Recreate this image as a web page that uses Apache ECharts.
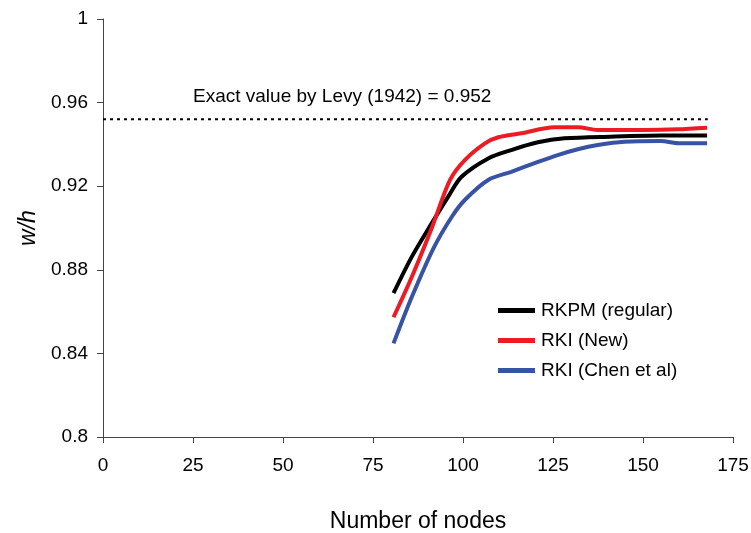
<!DOCTYPE html>
<html><head><meta charset="utf-8">
<script src="https://cdn.jsdelivr.net/npm/echarts@6/dist/echarts.min.js"></script>
<style>html,body{margin:0;padding:0;background:#fff}#c{width:751px;height:533px}</style>
</head><body><div id="c"></div>
<script>
const xTicks = [0, 25, 50, 75, 100, 125, 150, 175];
const yTicks = [0.8, 0.84, 0.88, 0.92, 0.96, 1];
const exactValue = 0.952;
const exactLabel = 'Exact value by Levy (1942) = 0.952';
const exactLine = [[0, exactValue], [168, exactValue]];
const rkpmRegular = [[80.7,0.8688],[85.8,0.8863],[91.3,0.9022],[95.9,0.9150],[99.6,0.9245],[107,0.9333],[113.4,0.9373],[120.8,0.9410],[128.2,0.9429],[141,0.9437],[154.9,0.9442],[167.8,0.9442]];
const rkiNew = [[80.7,0.8573],[85.8,0.8767],[91.3,0.8999],[96.4,0.9230],[100.5,0.9325],[106.1,0.9405],[109.8,0.9434],[116.2,0.9453],[125.4,0.9482],[131.9,0.9482],[137.4,0.9469],[150.3,0.9469],[159.5,0.9472],[167.8,0.9480]];
const rkiChen = [[80.7,0.8448],[85.8,0.8671],[91.8,0.8903],[96.9,0.9054],[100.5,0.9134],[107,0.9230],[113.4,0.9269],[119.9,0.9310],[126.3,0.9349],[131.9,0.9377],[137.4,0.9397],[144.8,0.9413],[154.9,0.9416],[160.4,0.9405],[167.8,0.9405]];
const names = ['RKPM (regular)', 'RKI (New)', 'RKI (Chen et al)'];
const colors = ['#000000', '#ed1c24', '#3953a4'];

const font = 'Liberation Sans, Arial, sans-serif';
const chart = echarts.init(document.getElementById('c'));
const mk = (name, data, color) => ({
  name, type: 'line', data, smooth: 0.3, showSymbol: false, symbol: 'none',
  lineStyle: { color, width: 4 }, itemStyle: { color }, z: 3
});
chart.setOption({
  animation: false,
  backgroundColor: '#fff',
  grid: { left: 103, right: 18, top: 19, bottom: 96, containLabel: false, outerBoundsMode: 'none' },
  xAxis: {
    type: 'value', min: 0, max: 175, interval: 25,
    name: 'Number of nodes', nameLocation: 'middle', nameGap: 73,
    nameTextStyle: { fontFamily: font, fontSize: 23, color: '#000' },
    axisLine: { lineStyle: { color: '#444', width: 1 } },
    axisTick: { show: true, inside: false, length: 6, lineStyle: { color: '#444' } },
    axisLabel: { fontFamily: font, fontSize: 19, color: '#000', margin: 19 },
    splitLine: { show: false }
  },
  yAxis: {
    type: 'value', min: 0.8, max: 1, interval: 0.04,
    name: 'w/h', nameLocation: 'middle', nameGap: 61, nameRotate: 90,
    nameTextStyle: { fontFamily: font, fontSize: 23, fontStyle: 'italic', color: '#000' },
    axisLine: { show: true, lineStyle: { color: '#444', width: 1 } },
    axisTick: { show: true, inside: false, length: 6, lineStyle: { color: '#444' } },
    axisLabel: { fontFamily: font, fontSize: 19, color: '#000', margin: 15,
      formatter: v => String(+v.toFixed(2)) },
    splitLine: { show: false }
  },
  legend: {
    data: names, orient: 'vertical', left: 493, top: 296, itemGap: 11,
    itemWidth: 37, itemHeight: 5, icon: 'rect',
    textStyle: { fontFamily: font, fontSize: 19, color: '#000', padding: [0,0,0,1] }
  },
  series: [
    { name: 'exact', type: 'line', data: exactLine, showSymbol: false, symbol: 'none',
      lineStyle: { color: '#000', width: 2, type: [3, 4] }, z: 2, silent: true },
    mk(names[0], rkpmRegular, colors[0]),
    mk(names[1], rkiNew, colors[1]),
    mk(names[2], rkiChen, colors[2])
  ],
  graphic: [{
    type: 'text', left: 193, top: 87,
    style: { text: exactLabel, fontFamily: font, fontSize: 19, fill: '#000' }
  }]
});
</script></body></html>
